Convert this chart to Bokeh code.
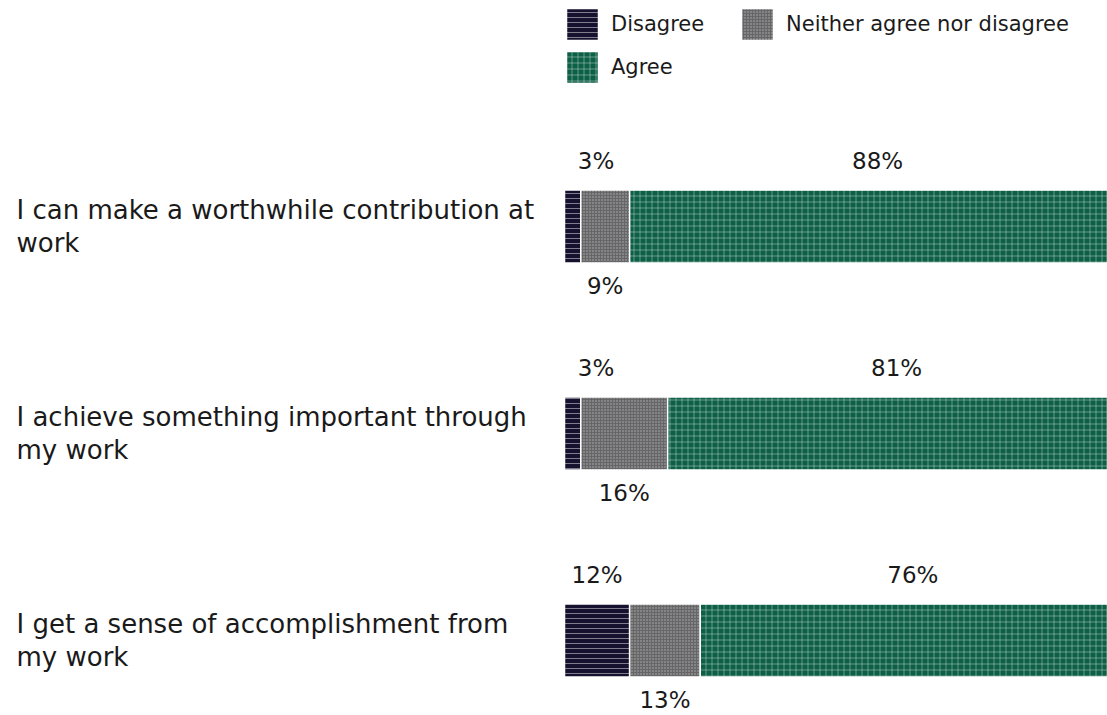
from bokeh.plotting import figure
from bokeh.models import Range1d, Legend, LegendItem, ColumnDataSource
from bokeh.core.properties import value
from bokeh.embed import file_html
from bokeh.resources import INLINE

categories = ["I can make a worthwhile contribution at\nwork",
              "I achieve something important through\nmy work",
              "I get a sense of accomplishment from\nmy work"]
series = ["Disagree", "Neither agree nor disagree", "Agree"]
disagree = [3, 3, 12]
neither = [9, 16, 13]
agree = [88, 81, 76]

colors = ["#15112e", "#666668", "#0d5f46"]
hatches = ["horizontal_line", "dot", "cross"]
hatch_alpha = [0.45, 0.5, 0.35]
hatch_scale = [5, 3, 6]

FONT = "DejaVu Sans"
W, H = 1107, 715
BAR_LEFT_PX = 564
PX_PER_UNIT = (W - BAR_LEFT_PX) / 100.0
ROW_PX = 207
TOP_CENTER_PX = 226
BAR_H = 73 / ROW_PX

x0 = -BAR_LEFT_PX / PX_PER_UNIT
y_top = -TOP_CENTER_PX / ROW_PX
y_bot = (H - TOP_CENTER_PX) / ROW_PX

p = figure(width=W, height=H, output_backend="svg", toolbar_location=None,
           x_range=Range1d(x0, 100), y_range=Range1d(y_bot, y_top),
           min_border=0, min_border_left=0, min_border_right=0, min_border_top=0, min_border_bottom=0)
p.axis.visible = False
p.grid.visible = False
p.outline_line_color = None
p.background_fill_color = None
p.border_fill_color = None

ys = list(range(len(categories)))
vals = [disagree, neither, agree]
renderers = []
left = [0] * len(ys)
for k, s in enumerate(series):
    right = [l + v for l, v in zip(left, vals[k])]
    src = ColumnDataSource(dict(y=ys, left=left, right=right))
    r = p.hbar(y="y", left="left", right="right", height=BAR_H, source=src,
               fill_color=colors[k], line_color="white", line_width=1.5,
               hatch_pattern=hatches[k], hatch_color="white", hatch_alpha=hatch_alpha[k],
               hatch_scale=hatch_scale[k], hatch_weight=1)
    renderers.append(r)
    left = right

# value labels
above_off = (BAR_H / 2) + 29 / ROW_PX
below_off = (BAR_H / 2) + 23 / ROW_PX
dis_x = [max(v / 2, 5.8) for v in disagree]
dis_y = [y - above_off for y in ys]
neu_x = [d + n / 2 for d, n in zip(disagree, neither)]
neu_y = [y + below_off for y in ys]
agr_x = [d + n + (100 - d - n) / 2 + 9 / PX_PER_UNIT for d, n in zip(disagree, neither)]
agr_y = [y - above_off for y in ys]
for xs_, ys_, vs in [(dis_x, dis_y, disagree), (neu_x, neu_y, neither), (agr_x, agr_y, agree)]:
    p.text(x=xs_, y=ys_, text=[f"{v}%" for v in vs], text_align="center", text_baseline="middle",
           text_font=value(FONT), text_font_size="23px", text_color="#1a1a1a")

# category labels
cat_x = [x0 + 16 / PX_PER_UNIT] * len(ys)
p.text(x=cat_x, y=ys, text=categories, text_align="left", text_baseline="middle",
       text_font=value(FONT), text_font_size="26px", text_color="#1a1a1a", text_line_height=1.12)

def mk_legend(items, loc):
    lg = Legend(items=items, location=loc, orientation="vertical",
                glyph_width=40, glyph_height=40, label_standoff=9, spacing=3,
                padding=0, margin=0, border_line_color=None, background_fill_alpha=0,
                label_text_font=FONT, label_text_font_size="21px", label_text_color="#1a1a1a",
                label_height=40)
    p.add_layout(lg, "center")

mk_legend([LegendItem(label=series[0], renderers=[renderers[0]]),
           LegendItem(label=series[2], renderers=[renderers[2]])], (BAR_LEFT_PX - 2, H - 87))
mk_legend([LegendItem(label=series[1], renderers=[renderers[1]])], (BAR_LEFT_PX + 173, H - 44))

open("out.html", "w").write(file_html(p, INLINE))
